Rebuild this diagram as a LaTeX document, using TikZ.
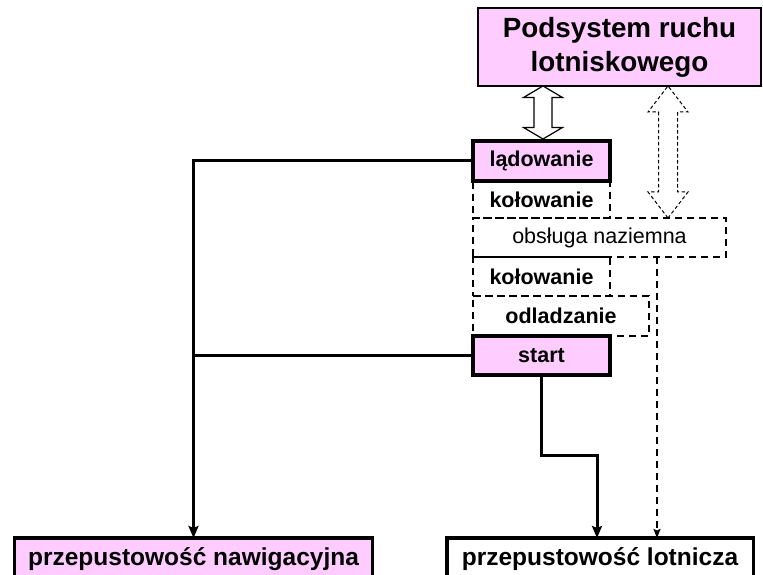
\documentclass[tikz,border=0pt]{standalone}
\usepackage{fontspec}
\setmainfont{Liberation Sans}
\usetikzlibrary{positioning,arrows.meta,calc}
\definecolor{podpink}{RGB}{255,204,255}

\begin{document}
\begin{tikzpicture}[x=1pt, y=1pt,
        node distance = 0pt,
        every node/.style = {inner sep=0pt, outer sep=0pt, align=center},
        hot/.style  = {draw, fill=podpink, line width=3.5pt, minimum width=137pt,
                       minimum height=39pt, font=\fontsize{21.5}{24}\selectfont\bfseries},
        dbox/.style = {draw, line width=1.8pt, dash pattern=on 7pt off 5pt,
                       minimum height=39pt, font=\fontsize{21.5}{24}\selectfont\bfseries},
        sink/.style = {draw, line width=3.5pt, minimum height=42pt,
                       font=\fontsize{24.5}{28}\selectfont\bfseries},
        link/.style = {line width=3pt, -{Stealth[length=12pt,width=10pt,inset=2pt]}},
        dlink/.style = {line width=1.8pt, dash pattern=on 7pt off 5pt,
                        -{Stealth[length=9pt,width=7pt,inset=1.5pt]}},
    ]
        \useasboundingbox (0,0) rectangle (763,575);

        % upper subsystem
        \node[draw, fill=podpink, line width=1.5pt, minimum width=283pt, minimum height=78pt,
              font=\fontsize{27.8}{34}\selectfont\bfseries] (top) at (619.5,528)
              {Podsystem ruchu\\lotniskowego};

        % stack of phases
        \node[hot, minimum height=40pt] (lad) at (541.5,414) {lądowanie};
        \node[dbox, minimum width=137pt, minimum height=37pt, below right=of lad.south west] (kol1) {kołowanie};
        \node[dbox, minimum width=253pt, font=\fontsize{21.5}{24}\selectfont,
              below right=of kol1.south west] (obs) {obsługa naziemna};
        \node[dbox, minimum width=137pt, below right=of obs.south west] (kol2) {kołowanie};
        \node[dbox, minimum width=176pt, minimum height=40pt, below right=of kol2.south west] (odl) {odladzanie};
        \node[hot, below right=of odl.south west] (start) {start};

        % capacities
        \node[sink, fill=podpink, minimum width=358pt] (nav) at (193.5,16) {przepustowość nawigacyjna};
        \node[sink, fill=white, minimum width=306.5pt] (lot) at (600,16) {przepustowość lotnicza};

        % hollow double arrows
        \draw[line width=1.2pt, fill=white] (top.south -| lad.north) ++(1.5,0)
            -- ++(-19.5,-11.5) -- ++(10.5,0) -- ++(0,-30) -- ++(-10.5,0)
            -- ++(19.5,-11.5) -- ++(19.5,11.5) -- ++(-10.5,0) -- ++(0,30)
            -- ++(10.5,0) -- cycle;
        \draw[line width=1pt, dash pattern=on 3.5pt off 2.5pt] (obs.north west) ++(195,0)
            -- ++(-20,26) -- ++(10.5,0) -- ++(0,80) -- ++(-10.5,0)
            -- ++(20,26) -- ++(20,-26) -- ++(-10.5,0) -- ++(0,-80)
            -- ++(10.5,0) -- cycle;

        % connectors
        \coordinate (bend) at (597,119);
        \draw[link] (lad.west) -| (nav.north);
        \draw[line width=3pt] (start.west) -- (start.west -| nav.north);
        \draw[link] (start.south) |- (bend) -- (bend |- lot.north);
        \draw[dlink] (obs.south west) ++(184,0) coordinate (dtop) -- (dtop |- lot.north);
    \end{tikzpicture}
\end{document}
